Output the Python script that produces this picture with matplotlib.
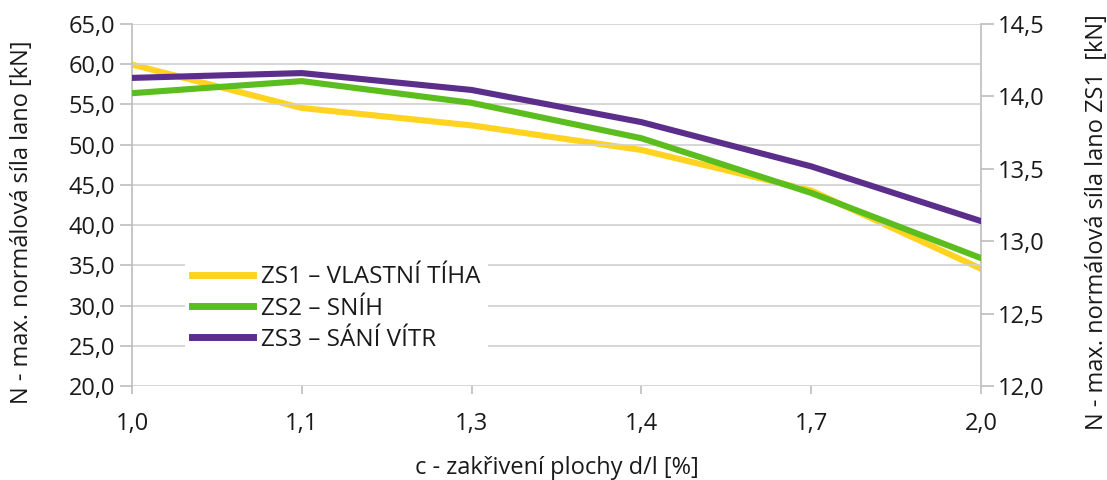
import matplotlib.pyplot as plt
from matplotlib.ticker import FuncFormatter

# zakriveni plochy d/l [%] - kategorie na ose x
kategorie = ["1,0", "1,1", "1,3", "1,4", "1,7", "2,0"]

# ZS1 je na prave ose (ZS1 [kN]), ZS2 a ZS3 na leve
zs1 = [14.22, 13.92, 13.80, 13.63, 13.35, 12.81]
zs2 = [56.4, 57.9, 55.2, 50.8, 44.0, 35.9]
zs3 = [58.3, 58.9, 56.8, 52.8, 47.3, 40.5]

nazvy = ["ZS1 – VLASTNÍ TÍHA", "ZS2 – SNÍH", "ZS3 – SÁNÍ VÍTR"]
barvy = ["#ffd320", "#5bbd1e", "#5b2e8c"]

plt.rcParams['font.family'] = ['Open Sans', 'DejaVu Sans']
text_barva = "#1a1a1a"
sed = "#bdbdbd"

fig = plt.figure(figsize=(11.07, 4.8), dpi=100)
ax = fig.add_axes([132/1107, 94/480, 849/1107, 362/480])
ax2 = ax.twinx()

x = list(range(len(kategorie)))
l2, = ax.plot(x, zs2, color=barvy[1], lw=4.4, solid_joinstyle='miter', zorder=3)
l3, = ax.plot(x, zs3, color=barvy[2], lw=4.4, solid_joinstyle='miter', zorder=3)
l1, = ax2.plot(x, zs1, color=barvy[0], lw=4.4, solid_joinstyle='miter', zorder=2)

ax.set_zorder(2)
ax.patch.set_visible(False)
ax2.set_zorder(1)
ax2.patch.set_visible(True)

carka = FuncFormatter(lambda v, p: f"{v:.1f}".replace('.', ','))

ax.set_xlim(0, len(kategorie) - 1)
ax.set_ylim(20, 65)
ax.set_yticks(range(20, 66, 5))
ax.yaxis.set_major_formatter(carka)
ax.set_xticks(x)
ax.set_xticklabels(kategorie)
ax.grid(axis='y', color='#d0d0d0', lw=1.2)
ax.set_axisbelow(True)

ax2.set_ylim(12, 14.5)
ax2.set_yticks([12.0, 12.5, 13.0, 13.5, 14.0, 14.5])
ax2.yaxis.set_major_formatter(carka)

for a in (ax, ax2):
    for s in a.spines.values():
        s.set_visible(False)
    a.tick_params(colors=sed, labelcolor=text_barva, labelsize=17, width=1.2)

ax.spines['left'].set_visible(True)
ax.spines['left'].set_color(sed)
ax.spines['left'].set_linewidth(1.2)
ax2.spines['right'].set_visible(True)
ax2.spines['right'].set_color(sed)
ax2.spines['right'].set_linewidth(1.2)

ax.tick_params(axis='y', length=9, pad=3)
ax.tick_params(axis='x', length=6, pad=13)
ax2.tick_params(axis='y', length=9, pad=3)

ax.set_xlabel("c - zakřivení plochy d/l [%]", fontsize=17, color=text_barva, labelpad=14)
ax.set_ylabel("N - max. normálová síla lano [kN]", fontsize=17, color=text_barva)
ax2.set_ylabel("N - max. normálová síla lano ZS1  [kN]", fontsize=17, color=text_barva)
ax.yaxis.set_label_coords(-0.1154, 0.453)
ax2.yaxis.set_label_coords(1.1225, 0.453)

leg = ax.legend([l1, l2, l3], nazvy, loc='center left', bbox_to_anchor=(0.062, 0.214),
                frameon=True, fontsize=17.5, handlelength=2.5, handletextpad=0.35,
                labelspacing=0.3, borderaxespad=0, borderpad=0.3)
leg.get_frame().set_edgecolor('none')
leg.get_frame().set_facecolor('white')
leg.get_frame().set_alpha(1)
for t in leg.get_texts():
    t.set_color(text_barva)
for h in leg.get_lines():
    h.set_linewidth(5)

fig.savefig("out.png", dpi=100)
